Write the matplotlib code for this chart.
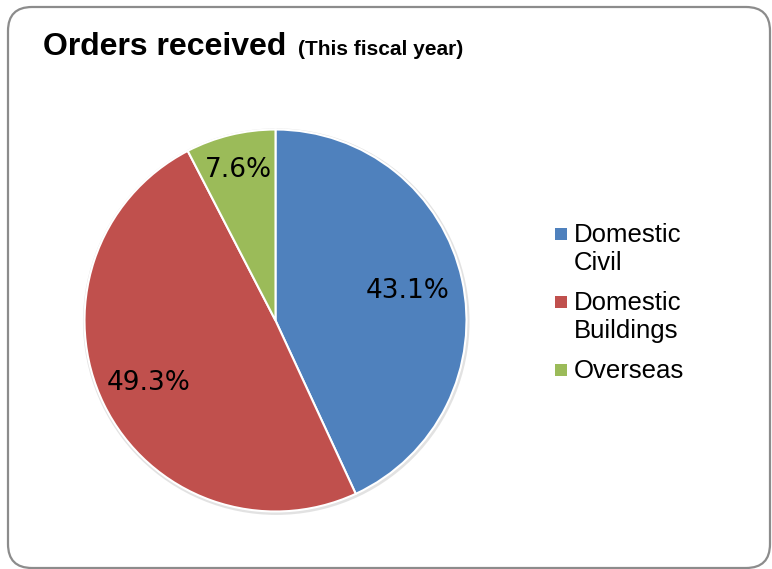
import numpy as np
import matplotlib.pyplot as plt
from matplotlib.patches import FancyBboxPatch, Rectangle, Circle
from matplotlib.transforms import IdentityTransform

categories = ["Domestic\nCivil", "Domestic\nBuildings", "Overseas"]
shares = [43.1, 49.3, 7.6]
colors = ["#4F81BD", "#C0504D", "#9BBB59"]
label_dist = [0.71, 0.74, 0.81]

W, H = 772, 569
fig = plt.figure(figsize=(W / 100, H / 100), dpi=100)

# rounded frame around the chart area (pixel coords)
frame = FancyBboxPatch((8, 1), 762, 561, boxstyle="round,pad=0,rounding_size=24",
                       transform=IdentityTransform(), facecolor="none",
                       edgecolor="#8c8c8c", linewidth=1.6, zorder=0)
fig.patches.append(frame)

# pie centre ~ (275.5, 320.5) px, radius ~191 px
cx, cy, r = 275.5, 320.5, 191
lim = 1.03
half = r * lim
ax = fig.add_axes([(cx - half) / W, (H - cy - half) / H, 2 * half / W, 2 * half / H])
ax.add_patch(Circle((0.004, -0.006), 1.012, facecolor="#d0d0d0", edgecolor="none",
                    alpha=0.6, zorder=0))
wedges, _ = ax.pie(shares, colors=colors, startangle=90, counterclock=False,
                   radius=1.0, wedgeprops=dict(edgecolor="white", linewidth=1.5))
ax.set_xlim(-lim, lim)
ax.set_ylim(-lim, lim)
ax.set_aspect("equal")
ax.axis("off")

for w, val, d in zip(wedges, shares, label_dist):
    mid = np.deg2rad((w.theta1 + w.theta2) / 2)
    ax.text(d * np.cos(mid), d * np.sin(mid), f"{val:.1f}%", ha="center", va="center",
            fontsize=19, family="DejaVu Sans", color="black")

fig.text(43 / W, 1 - 55 / H, "Orders received", fontsize=23, fontweight="bold",
         family="Liberation Sans", va="baseline")
fig.text(298 / W, 1 - 55 / H, "(This fiscal year)", fontsize=15, fontweight="bold",
         family="Liberation Sans", va="baseline")

# legend drawn by hand so the swatch sits on the first line of each label
line_h, entry_gap = 28, 40
y = 242
for lab, c in zip(categories, colors):
    fig.patches.append(Rectangle((555 / W, 1 - (y - 2) / H), 12 / W, 12 / H,
                                 transform=fig.transFigure, facecolor=c,
                                 edgecolor="none"))
    lines = lab.split("\n")
    for i, ln in enumerate(lines):
        fig.text(574 / W, 1 - (y + i * line_h) / H, ln, fontsize=18.5,
                 family="Liberation Sans", va="baseline")
    y += (len(lines) - 1) * line_h + entry_gap

fig.savefig("out.png", dpi=100)
